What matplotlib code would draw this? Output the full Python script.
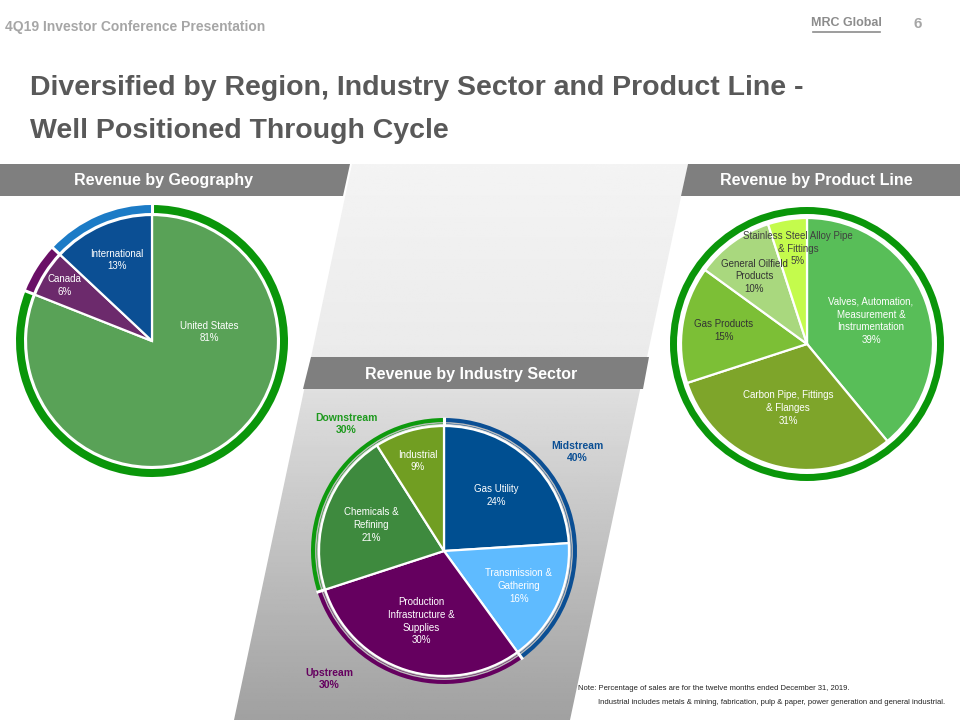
import numpy as np
import matplotlib
matplotlib.use("Agg")
import matplotlib.pyplot as plt
from matplotlib.patches import Polygon, Circle

plt.rcParams["font.family"] = ["Liberation Sans", "DejaVu Sans"]

# --- data -----------------------------------------------------------------
geo_labels = ["United States", "Canada", "International"]
geo_share = [81, 6, 13]

sector_labels = ["Gas Utility", "Transmission &\nGathering",
                 "Production\nInfrastructure &\nSupplies", "Chemicals &\nRefining", "Industrial"]
sector_share = [24, 16, 30, 21, 9]
stream_labels = ["Midstream", "Upstream", "Downstream"]
stream_share = [40, 30, 30]

product_labels = ["Valves, Automation,\nMeasurement &\nInstrumentation",
                  "Carbon Pipe, Fittings\n& Flanges", "Gas Products",
                  "General Oilfield\nProducts", "Stainless Steel Alloy Pipe\n& Fittings"]
product_share = [39, 31, 15, 10, 5]

# --- colours --------------------------------------------------------------
geo_colors = ["#59A257", "#6C2A6C", "#0B4F94"]
geo_ring = ["#0A960A", "#6A0F66", "#1C7BC6"]
sector_colors = ["#004F91", "#5FBBFF", "#65005F", "#3E8A3E", "#719E22"]
stream_colors = ["#0B4F94", "#65005F", "#0E9A0E"]
product_colors = ["#58BE58", "#7EA52A", "#7CBF36", "#A9D87E", "#C4FB4C"]
BAND = "#7F7F7F"

W, H = 960, 720


def Y(y):
    # slide coordinates are measured from the top
    return H - y


def draw_pie(ax, values, colors, center, radius, labels, dists, text_colors, angles=None):
    wedges, _ = ax.pie(values, colors=colors, center=center, radius=radius,
                       startangle=90, counterclock=False, frame=True,
                       wedgeprops=dict(edgecolor="white", linewidth=1.6))
    for i, w in enumerate(wedges):
        a = (w.theta1 + w.theta2) / 2
        if angles is not None and angles[i] is not None:
            a = angles[i]
        a = np.deg2rad(a)
        x = center[0] + radius * dists[i] * np.cos(a)
        y = center[1] + radius * dists[i] * np.sin(a)
        ax.text(x, y, f"{labels[i]}\n{values[i]}%", ha="center", va="center",
                fontsize=7, color=text_colors[i], linespacing=1.35, zorder=5)
    return wedges


def draw_ring(ax, values, colors, center, r_out, width, gap="white"):
    wedges, _ = ax.pie(values, colors=colors, center=center, radius=r_out,
                       startangle=90, counterclock=False, frame=True,
                       wedgeprops=dict(width=width, linewidth=0))
    if len(values) > 1:
        for w in wedges:
            a = np.deg2rad(w.theta1)
            r0, r1 = r_out - width - 1, r_out + 1
            ax.plot([center[0] + r0 * np.cos(a), center[0] + r1 * np.cos(a)],
                    [center[1] + r0 * np.sin(a), center[1] + r1 * np.sin(a)],
                    color=gap, lw=2.2, solid_capstyle="butt", zorder=4)
    return wedges


fig = plt.figure(figsize=(9.6, 7.2), dpi=100)
ax = fig.add_axes([0, 0, 1, 1])

# central panel with vertical gradient
panel = Polygon([(352, Y(164)), (688, Y(164)), (570, Y(720)), (234, Y(720))],
                closed=True, facecolor="none", edgecolor="none")
ax.add_patch(panel)
ys = np.linspace(164, 720, 300)
shade = np.interp(ys, [164, 355, 395, 720], [0.955, 0.92, 0.87, 0.63])
img = np.repeat(shade[:, None], 2, axis=1)
im = ax.imshow(img, cmap="gray", vmin=0, vmax=1, origin="upper", aspect="auto",
               extent=[230, 692, Y(720), Y(164)], zorder=0)
im.set_clip_path(panel)

# section bands
bands = [
    ([(0, 164), (350, 164), (343, 196), (0, 196)], "Revenue by Geography", 164, 180),
    ([(688, 164), (960, 164), (960, 196), (681, 196)], "Revenue by Product Line", 816, 180),
    ([(311, 357), (649, 357), (643, 389), (303, 389)], "Revenue by Industry Sector", 471, 374),
]
for pts, txt, tx, ty in bands:
    ax.add_patch(Polygon([(x, Y(y)) for x, y in pts], closed=True, facecolor=BAND,
                         edgecolor="none", zorder=1))
    ax.text(tx, Y(ty), txt, ha="center", va="center", color="white",
            fontsize=11.5, fontweight="bold", zorder=2)

# header and title
ax.text(5, Y(27), "4Q19 Investor Conference Presentation", ha="left", va="center",
        color="#A6A6A6", fontsize=10, fontweight="bold")
ax.text(846, Y(23), "MRC Global", ha="center", va="center", color="#8C8C8C",
        fontsize=9, fontweight="bold")
ax.plot([813, 880], [Y(32), Y(32)], color="#8C8C8C", lw=1.2)
ax.text(918, Y(24), "6", ha="center", va="center", color="#A6A6A6",
        fontsize=11, fontweight="bold")
ax.text(30, Y(88), "Diversified by Region, Industry Sector and Product Line -",
        ha="left", va="center", color="#595959", fontsize=20.5, fontweight="bold")
ax.text(30, Y(131), "Well Positioned Through Cycle",
        ha="left", va="center", color="#595959", fontsize=20.5, fontweight="bold")

# geography
c_geo = (152, Y(341))
draw_ring(ax, geo_share, geo_ring, c_geo, 136, 8)
draw_pie(ax, geo_share, geo_colors, c_geo, 126, geo_labels,
         [0.46, 0.82, 0.70], ["white"] * 3, angles=[9, None, None])

# industry sector
c_sec = (444, Y(551))
draw_ring(ax, stream_share, stream_colors, c_sec, 133, 6)
ax.add_patch(Circle(c_sec, 128.2, facecolor="none", edgecolor="#BDBDBD", lw=1.0, zorder=3))
draw_pie(ax, sector_share, sector_colors, c_sec, 125, sector_labels,
         [0.61, 0.66, 0.59, 0.62, 0.75], ["white"] * 5)
stream_pos = [(577, 452, stream_colors[0]), (329, 679, stream_colors[1]), (346, 424, "#1E9A1E")]
for (sx, sy, sc), lab, val in zip(stream_pos, stream_labels, stream_share):
    ax.text(sx, Y(sy), f"{lab}\n{val}%", ha="center", va="center", color=sc,
            fontsize=7.5, fontweight="bold", linespacing=1.35)

# product line
c_prod = (807, Y(344))
draw_ring(ax, [sum(product_share)], ["#0A960A"], c_prod, 137, 7)
draw_pie(ax, product_share, product_colors, c_prod, 126, product_labels,
         [0.54, 0.53, 0.67, 0.68, 0.76],
         ["white", "white", "#333333", "#333333", "#404040"],
         angles=[None, None, None, 128, 95.5])

# note
ax.text(578, Y(689), "Note: Percentage of sales are for the twelve months ended December 31, 2019.",
        ha="left", va="center", fontsize=5.5, color="#222222")
ax.text(598, Y(702), "Industrial includes metals & mining, fabrication, pulp & paper, "
        "power generation and general industrial.",
        ha="left", va="center", fontsize=5.5, color="#222222")

ax.set_xlim(0, W)
ax.set_ylim(0, H)
ax.set_aspect("equal")
ax.axis("off")
fig.savefig("out.png", dpi=100, facecolor="white")
